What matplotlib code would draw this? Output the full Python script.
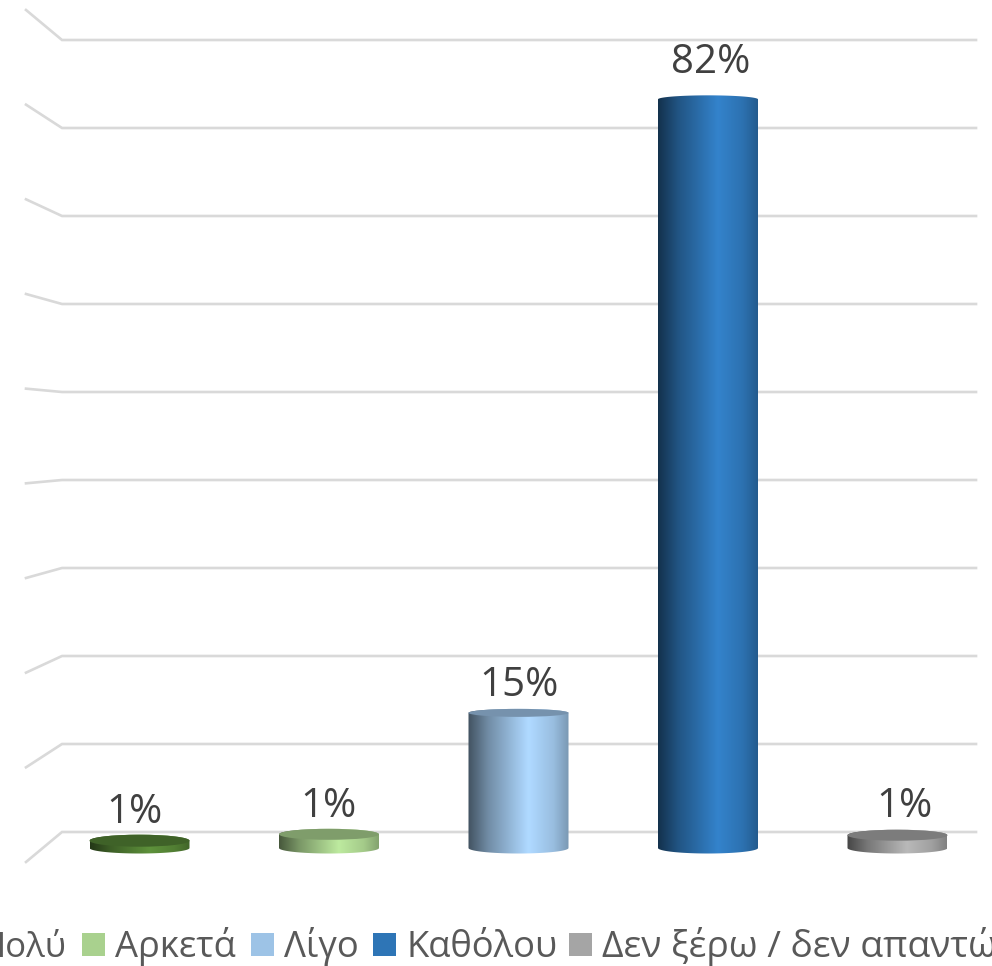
import numpy as np
import matplotlib.pyplot as plt
from matplotlib.patches import Ellipse, Rectangle, PathPatch
from matplotlib.path import Path

plt.rcParams['font.family'] = ['Open Sans', 'DejaVu Sans']

# Values
categories = ["Πολύ", "Αρκετά", "Λίγο", "Καθόλου", "Δεν ξέρω / δεν απαντώ"]
values = [0.8, 1.5, 14.8, 82.0, 1.4]
value_labels = ["1%", "1%", "15%", "82%", "1%"]
grid_ticks = [0, 10, 20, 30, 40, 50, 60, 70, 80, 90]
colors = ["#548235", "#A9D18E", "#9DC3E6", "#2E75B6", "#A5A5A5"]

# Pixel layout of the 3D look
X0, X_STEP = 139.5, 189.5   # first bar centre, bar spacing
Y0, Y_SCALE = 848.0, 9.13   # bar base, pixels per percent
BAR_W = 100 / X_STEP
top_ry = [6.0, 5.5, 4.0, 4.0, 5.5]
flat_cap = [True, True, True, False, True]  # the tallest bar has no darker cap
label_dx = [-5, -1, 1, 3, 7]
label_gap = [18, 17, 17, 26, 18]
BOTTOM_RY = 5.5


def px_x(p):
    return (p - X0) / X_STEP


def px_y(p):
    return (Y0 - p) / Y_SCALE


def shade(color, f):
    rgb = np.array(plt.matplotlib.colors.to_rgb(color))
    return np.clip(rgb * f, 0, 1)


fig = plt.figure(figsize=(9.92, 9.66), dpi=100)
ax = fig.add_axes([0, 0, 1, 1])

# Back wall gridlines plus the slanted side wall
for t in grid_ticks:
    back = 832 - t * 8.8
    side = 862 - t * 9.467
    ax.plot([px_x(26), px_x(62), px_x(976)], [px_y(side), px_y(back), px_y(back)],
            color="#d9d9d9", lw=1.9, zorder=1, solid_joinstyle="miter")

# Cylinders
stops = [0.0, 0.2, 0.6, 0.85, 1.0]
factors = [0.42, 0.72, 1.12, 0.97, 0.78]
s = np.linspace(0, 1, 200)
t_arc = np.linspace(np.pi, 2 * np.pi, 60)

for i, (v, c) in enumerate(zip(values, colors)):
    grad = np.array([np.interp(s, stops, factors)]).T * np.array(plt.matplotlib.colors.to_rgb(c))
    grad = np.clip(grad, 0, 1)[np.newaxis, :, :]
    left, right = i - BAR_W / 2, i + BAR_W / 2
    im = ax.imshow(grad, extent=[left, right, -1, v + 1], aspect="auto", zorder=3,
                   interpolation="bilinear")
    # body outline: bottom arc going right, then the top arc coming back
    xs = i + BAR_W / 2 * np.cos(t_arc)
    ys = BOTTOM_RY / Y_SCALE * np.sin(t_arc)
    top_xs = xs[::-1]
    top_ys = v - top_ry[i] / Y_SCALE * np.sin(t_arc)[::-1]
    verts = list(zip(xs, ys)) + list(zip(top_xs, top_ys)) + [(xs[0], ys[0])]
    clip = PathPatch(Path(verts), transform=ax.transData, fc="none", ec="none")
    ax.add_patch(clip)
    im.set_clip_path(clip)
    if flat_cap[i]:
        ax.add_patch(Ellipse((i, v), BAR_W, 2 * top_ry[i] / Y_SCALE,
                             fc=shade(c, 0.75), ec="none", zorder=4))
    ax.annotate(value_labels[i], (i, v), xytext=(label_dx[i] * 0.72, label_gap[i] * 0.72),
                textcoords="offset points", ha="center", va="baseline",
                fontsize=29, color="#404040", zorder=5)

# Legend, cut off by the picture on both sides like the original
square_x = [-40, 82, 251, 373, 569]
text_x = [67, 115, 284, 407, 602]
legend_size = [25, 26.2, 26.2, 26.2, 26.8]
for j, name in enumerate(categories):
    ax.add_patch(Rectangle((px_x(square_x[j]), px_y(956)), 23 / X_STEP, 23 / Y_SCALE,
                           fc=colors[j], ec="none", zorder=5))
    ax.text(px_x(text_x[j]), px_y(957), name, ha="right" if j == 0 else "left",
            va="baseline", fontsize=legend_size[j], color="#595959", zorder=5)

ax.set_xlim(px_x(0), px_x(992))
ax.set_ylim(px_y(966), px_y(0))
ax.axis("off")

fig.savefig("out.png", dpi=100)
